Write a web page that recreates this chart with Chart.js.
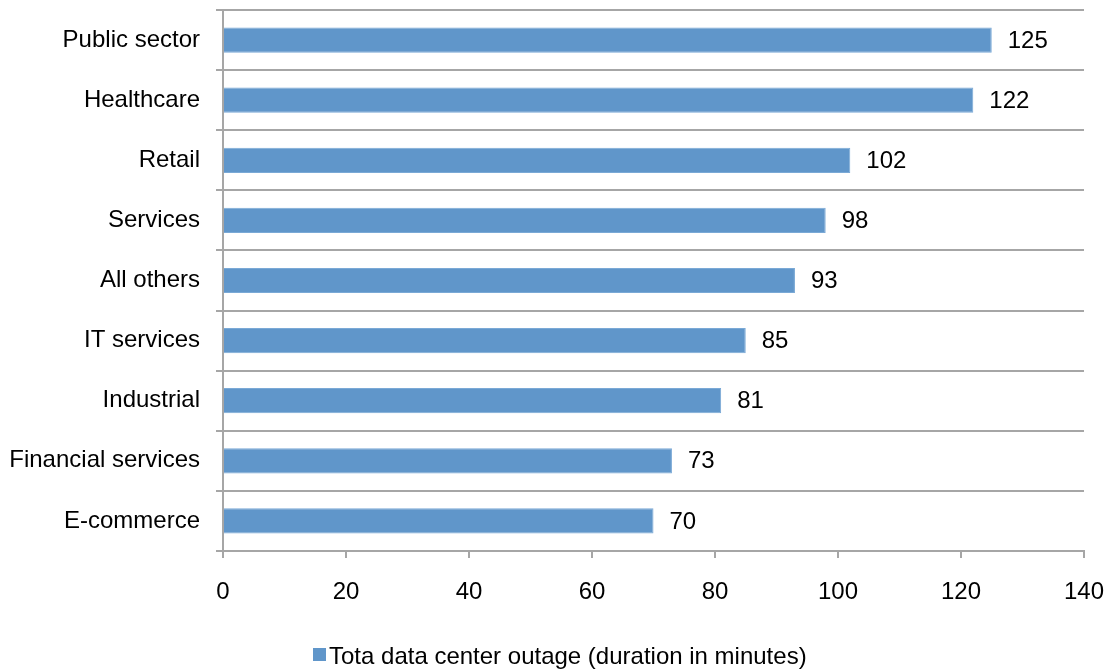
<!DOCTYPE html>
<html>
<head>
<meta charset="utf-8">
<script src="https://cdn.jsdelivr.net/npm/chart.js@4.4.1/dist/chart.umd.min.js"></script>
<style>
  html, body { margin: 0; padding: 0; background: #fff; }
  #wrap { width: 1111px; height: 671px; }
</style>
</head>
<body>
<div id="wrap"><canvas id="c" width="1111" height="671"></canvas></div>
<script>
// Industries, top to bottom
const categories = ['Public sector', 'Healthcare', 'Retail', 'Services', 'All others',
                    'IT services', 'Industrial', 'Financial services', 'E-commerce'];
// Average outage duration, minutes
const outageMinutes = [125, 122, 102, 98, 93, 85, 81, 73, 70];
const seriesName = 'Tota data center outage (duration in minutes)';
const xTicks = [0, 20, 40, 60, 80, 100, 120, 140];

const FONT = 'Liberation Sans, Arial, sans-serif';
const FONT_SIZE = 24;
const BAR = '#6096CA';
const GRID = '#A6A6A6';

// Writes each bar's value just past its end
const valueLabels = {
  id: 'valueLabels',
  afterDatasetsDraw(chart) {
    const ctx = chart.ctx;
    const meta = chart.getDatasetMeta(0);
    ctx.save();
    ctx.font = FONT_SIZE + 'px ' + FONT;
    ctx.fillStyle = '#000';
    ctx.textAlign = 'left';
    ctx.textBaseline = 'middle';
    meta.data.forEach((bar, i) => {
      ctx.fillText(String(outageMinutes[i]), bar.x + 16, bar.y + 1);
    });
    ctx.restore();
  }
};

// Single-entry legend under the axis: small swatch followed by the series name
const bottomLegend = {
  id: 'bottomLegend',
  afterDraw(chart) {
    const ctx = chart.ctx;
    const ds = chart.data.datasets[0];
    ctx.save();
    ctx.fillStyle = ds.backgroundColor;
    ctx.fillRect(313, 648, 13, 13);
    ctx.font = FONT_SIZE + 'px ' + FONT;
    ctx.fillStyle = '#000';
    ctx.textAlign = 'left';
    ctx.textBaseline = 'alphabetic';
    ctx.fillText(ds.label, 329, 664);
    ctx.restore();
  }
};

new Chart(document.getElementById('c'), {
  type: 'bar',
  data: {
    labels: categories,
    datasets: [{
      label: seriesName,
      data: outageMinutes,
      backgroundColor: BAR,
      borderColor: '#7AA9D6',
      borderWidth: 1,
      barPercentage: 0.42,
      categoryPercentage: 1
    }]
  },
  options: {
    indexAxis: 'y',
    responsive: false,
    animation: false,
    layout: { padding: { top: 10, right: 27, bottom: 25, left: 0 } },
    scales: {
      x: {
        min: 0, max: 140,
        afterBuildTicks(scale) { scale.ticks = xTicks.map(v => ({ value: v })); },
        afterFit(scale) {
          scale.height = 95;
          scale.paddingLeft = 0;
          scale.paddingRight = 0;
        },
        grid: {
          drawOnChartArea: false,
          drawTicks: true,
          tickLength: 7,
          color: GRID,
          lineWidth: 2
        },
        border: { display: true, color: GRID, width: 2 },
        ticks: {
          padding: 20,
          color: '#000',
          font: { family: FONT, size: FONT_SIZE }
        }
      },
      y: {
        afterFit(scale) {
          scale.width = 223;
          scale.paddingTop = 0;
          scale.paddingBottom = 0;
        },
        grid: {
          offset: true,
          drawOnChartArea: true,
          drawTicks: true,
          tickLength: 7,
          color: GRID,
          lineWidth: 2
        },
        border: { display: true, color: GRID, width: 2 },
        ticks: {
          padding: 16,
          color: '#000',
          font: { family: FONT, size: FONT_SIZE }
        }
      }
    },
    plugins: {
      legend: { display: false },
      tooltip: { enabled: false }
    }
  },
  plugins: [valueLabels, bottomLegend]
});
</script>
</body>
</html>
